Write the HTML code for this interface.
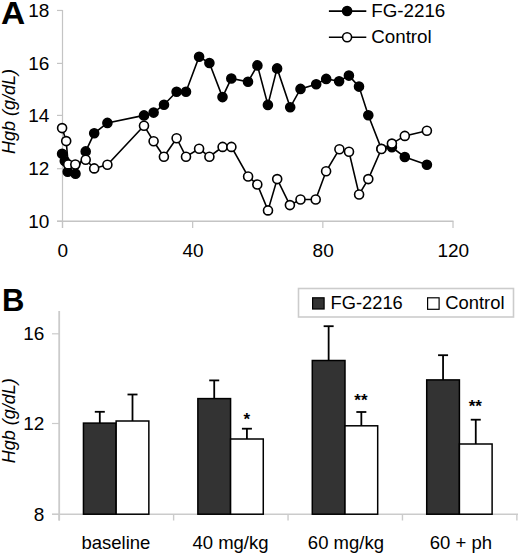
<!DOCTYPE html>
<html><head><meta charset="utf-8"><style>
html,body{margin:0;padding:0;background:#fff;width:520px;height:555px;overflow:hidden}
svg{display:block}
text{font-family:"Liberation Sans",sans-serif;fill:#000}
</style></head><body>
<svg width="520" height="555" viewBox="0 0 520 555">
<text transform="translate(1.0,24.2) scale(1.08,1)" x="0" y="0" font-weight="bold" font-size="31">A</text>
<line x1="62.5" y1="10" x2="62.5" y2="228" stroke="#c4c4c4" stroke-width="1.2"/>
<line x1="57" y1="10.46" x2="62.5" y2="10.46" stroke="#c4c4c4" stroke-width="1.2"/>
<text x="49.4" y="16.87" text-anchor="end" font-size="19">18</text>
<line x1="57" y1="63.40" x2="62.5" y2="63.40" stroke="#c4c4c4" stroke-width="1.2"/>
<text x="49.4" y="70.22" text-anchor="end" font-size="19">16</text>
<line x1="57" y1="115.40" x2="62.5" y2="115.40" stroke="#c4c4c4" stroke-width="1.2"/>
<text x="49.4" y="122.27" text-anchor="end" font-size="19">14</text>
<line x1="57" y1="168.70" x2="62.5" y2="168.70" stroke="#c4c4c4" stroke-width="1.2"/>
<text x="49.4" y="175.47" text-anchor="end" font-size="19">12</text>
<line x1="57" y1="221.30" x2="62.5" y2="221.30" stroke="#c4c4c4" stroke-width="1.2"/>
<text x="49.4" y="227.57" text-anchor="end" font-size="19">10</text>
<line x1="57" y1="221.3" x2="453.5" y2="221.3" stroke="#c4c4c4" stroke-width="1.4"/>
<line x1="62.50" y1="221.3" x2="62.50" y2="228" stroke="#c4c4c4" stroke-width="1.2"/>
<text x="62.80" y="257" text-anchor="middle" font-size="19">0</text>
<line x1="192.67" y1="221.3" x2="192.67" y2="228" stroke="#c4c4c4" stroke-width="1.2"/>
<text x="192.97" y="257" text-anchor="middle" font-size="19">40</text>
<line x1="322.84" y1="221.3" x2="322.84" y2="228" stroke="#c4c4c4" stroke-width="1.2"/>
<text x="323.14" y="257" text-anchor="middle" font-size="19">80</text>
<line x1="453.01" y1="221.3" x2="453.01" y2="228" stroke="#c4c4c4" stroke-width="1.2"/>
<text x="453.31" y="257" text-anchor="middle" font-size="19">120</text>
<text transform="translate(14.8,111.6) rotate(-90)" text-anchor="middle" font-size="18" font-style="italic">Hgb (g/dL)</text>
<polyline points="62.1,153.8 64.8,161.0 67.7,171.7 75.5,173.8 85.7,151.4 94.2,133.3 107.4,122.9 144.0,115.4 153.6,112.6 164.0,104.7 176.6,91.8 186.0,91.8 199.1,56.7 209.4,63.0 222.5,97.1 231.3,78.5 248.0,81.8 257.4,65.4 267.9,104.9 277.1,68.4 290.2,107.3 300.5,88.9 316.2,84.3 326.2,78.9 339.1,81.2 348.9,75.6 359.0,86.6 368.3,115.3 381.4,148.8 391.9,147.3 404.8,157.0 426.9,164.7" fill="none" stroke="#000" stroke-width="1.6"/>
<circle cx="62.1" cy="153.8" r="4.5" fill="#000" stroke="#000" stroke-width="1.6"/>
<circle cx="64.80000000000001" cy="161.0" r="4.5" fill="#000" stroke="#000" stroke-width="1.6"/>
<circle cx="67.7" cy="171.70000000000002" r="4.5" fill="#000" stroke="#000" stroke-width="1.6"/>
<circle cx="75.5" cy="173.8" r="4.5" fill="#000" stroke="#000" stroke-width="1.6"/>
<circle cx="85.7" cy="151.4" r="4.5" fill="#000" stroke="#000" stroke-width="1.6"/>
<circle cx="94.2" cy="133.3" r="4.5" fill="#000" stroke="#000" stroke-width="1.6"/>
<circle cx="107.4" cy="122.89999999999999" r="4.5" fill="#000" stroke="#000" stroke-width="1.6"/>
<circle cx="144.0" cy="115.4" r="4.5" fill="#000" stroke="#000" stroke-width="1.6"/>
<circle cx="153.6" cy="112.6" r="4.5" fill="#000" stroke="#000" stroke-width="1.6"/>
<circle cx="164.0" cy="104.7" r="4.5" fill="#000" stroke="#000" stroke-width="1.6"/>
<circle cx="176.6" cy="91.8" r="4.5" fill="#000" stroke="#000" stroke-width="1.6"/>
<circle cx="186.0" cy="91.8" r="4.5" fill="#000" stroke="#000" stroke-width="1.6"/>
<circle cx="199.1" cy="56.699999999999996" r="4.5" fill="#000" stroke="#000" stroke-width="1.6"/>
<circle cx="209.4" cy="63.0" r="4.5" fill="#000" stroke="#000" stroke-width="1.6"/>
<circle cx="222.5" cy="97.1" r="4.5" fill="#000" stroke="#000" stroke-width="1.6"/>
<circle cx="231.3" cy="78.5" r="4.5" fill="#000" stroke="#000" stroke-width="1.6"/>
<circle cx="248.0" cy="81.8" r="4.5" fill="#000" stroke="#000" stroke-width="1.6"/>
<circle cx="257.4" cy="65.39999999999999" r="4.5" fill="#000" stroke="#000" stroke-width="1.6"/>
<circle cx="267.9" cy="104.89999999999999" r="4.5" fill="#000" stroke="#000" stroke-width="1.6"/>
<circle cx="277.09999999999997" cy="68.39999999999999" r="4.5" fill="#000" stroke="#000" stroke-width="1.6"/>
<circle cx="290.2" cy="107.3" r="4.5" fill="#000" stroke="#000" stroke-width="1.6"/>
<circle cx="300.5" cy="88.89999999999999" r="4.5" fill="#000" stroke="#000" stroke-width="1.6"/>
<circle cx="316.2" cy="84.3" r="4.5" fill="#000" stroke="#000" stroke-width="1.6"/>
<circle cx="326.2" cy="78.89999999999999" r="4.5" fill="#000" stroke="#000" stroke-width="1.6"/>
<circle cx="339.09999999999997" cy="81.2" r="4.5" fill="#000" stroke="#000" stroke-width="1.6"/>
<circle cx="348.9" cy="75.6" r="4.5" fill="#000" stroke="#000" stroke-width="1.6"/>
<circle cx="359.0" cy="86.6" r="4.5" fill="#000" stroke="#000" stroke-width="1.6"/>
<circle cx="368.29999999999995" cy="115.3" r="4.5" fill="#000" stroke="#000" stroke-width="1.6"/>
<circle cx="381.4" cy="148.8" r="4.5" fill="#000" stroke="#000" stroke-width="1.6"/>
<circle cx="391.9" cy="147.3" r="4.5" fill="#000" stroke="#000" stroke-width="1.6"/>
<circle cx="404.79999999999995" cy="157.0" r="4.5" fill="#000" stroke="#000" stroke-width="1.6"/>
<circle cx="426.9" cy="164.70000000000002" r="4.5" fill="#000" stroke="#000" stroke-width="1.6"/>
<polyline points="62.1,128.1 66.2,141.1 68.2,164.4 75.3,164.5 85.7,159.8 94.2,168.4 107.4,164.7 144.0,125.7 153.6,141.2 163.9,156.8 176.6,138.2 186.0,156.7 199.1,148.7 209.4,156.7 222.6,146.9 231.4,146.9 248.1,176.5 257.3,184.5 268.0,210.4 277.2,179.1 289.9,205.1 300.5,199.5 315.7,199.5 326.1,171.3 339.4,149.2 349.0,151.8 359.1,194.5 368.3,179.1 381.4,149.0 391.9,143.6 404.8,135.9 426.9,130.7" fill="none" stroke="#000" stroke-width="1.6"/>
<circle cx="62.1" cy="128.1" r="4.5" fill="#fff" stroke="#000" stroke-width="1.6"/>
<circle cx="66.2" cy="141.10000000000002" r="4.5" fill="#fff" stroke="#000" stroke-width="1.6"/>
<circle cx="68.2" cy="164.4" r="4.5" fill="#fff" stroke="#000" stroke-width="1.6"/>
<circle cx="75.30000000000001" cy="164.5" r="4.5" fill="#fff" stroke="#000" stroke-width="1.6"/>
<circle cx="85.7" cy="159.8" r="4.5" fill="#fff" stroke="#000" stroke-width="1.6"/>
<circle cx="94.2" cy="168.4" r="4.5" fill="#fff" stroke="#000" stroke-width="1.6"/>
<circle cx="107.4" cy="164.70000000000002" r="4.5" fill="#fff" stroke="#000" stroke-width="1.6"/>
<circle cx="144.0" cy="125.7" r="4.5" fill="#fff" stroke="#000" stroke-width="1.6"/>
<circle cx="153.6" cy="141.20000000000002" r="4.5" fill="#fff" stroke="#000" stroke-width="1.6"/>
<circle cx="163.9" cy="156.8" r="4.5" fill="#fff" stroke="#000" stroke-width="1.6"/>
<circle cx="176.6" cy="138.20000000000002" r="4.5" fill="#fff" stroke="#000" stroke-width="1.6"/>
<circle cx="186.0" cy="156.70000000000002" r="4.5" fill="#fff" stroke="#000" stroke-width="1.6"/>
<circle cx="199.1" cy="148.70000000000002" r="4.5" fill="#fff" stroke="#000" stroke-width="1.6"/>
<circle cx="209.4" cy="156.70000000000002" r="4.5" fill="#fff" stroke="#000" stroke-width="1.6"/>
<circle cx="222.6" cy="146.9" r="4.5" fill="#fff" stroke="#000" stroke-width="1.6"/>
<circle cx="231.4" cy="146.9" r="4.5" fill="#fff" stroke="#000" stroke-width="1.6"/>
<circle cx="248.1" cy="176.5" r="4.5" fill="#fff" stroke="#000" stroke-width="1.6"/>
<circle cx="257.29999999999995" cy="184.5" r="4.5" fill="#fff" stroke="#000" stroke-width="1.6"/>
<circle cx="268.0" cy="210.4" r="4.5" fill="#fff" stroke="#000" stroke-width="1.6"/>
<circle cx="277.2" cy="179.10000000000002" r="4.5" fill="#fff" stroke="#000" stroke-width="1.6"/>
<circle cx="289.9" cy="205.10000000000002" r="4.5" fill="#fff" stroke="#000" stroke-width="1.6"/>
<circle cx="300.5" cy="199.5" r="4.5" fill="#fff" stroke="#000" stroke-width="1.6"/>
<circle cx="315.7" cy="199.5" r="4.5" fill="#fff" stroke="#000" stroke-width="1.6"/>
<circle cx="326.09999999999997" cy="171.3" r="4.5" fill="#fff" stroke="#000" stroke-width="1.6"/>
<circle cx="339.4" cy="149.20000000000002" r="4.5" fill="#fff" stroke="#000" stroke-width="1.6"/>
<circle cx="349.0" cy="151.8" r="4.5" fill="#fff" stroke="#000" stroke-width="1.6"/>
<circle cx="359.09999999999997" cy="194.5" r="4.5" fill="#fff" stroke="#000" stroke-width="1.6"/>
<circle cx="368.29999999999995" cy="179.10000000000002" r="4.5" fill="#fff" stroke="#000" stroke-width="1.6"/>
<circle cx="381.4" cy="149.0" r="4.5" fill="#fff" stroke="#000" stroke-width="1.6"/>
<circle cx="391.9" cy="143.60000000000002" r="4.5" fill="#fff" stroke="#000" stroke-width="1.6"/>
<circle cx="404.79999999999995" cy="135.9" r="4.5" fill="#fff" stroke="#000" stroke-width="1.6"/>
<circle cx="426.9" cy="130.70000000000002" r="4.5" fill="#fff" stroke="#000" stroke-width="1.6"/>
<line x1="328.9" y1="11.1" x2="366.3" y2="11.1" stroke="#000" stroke-width="1.6"/>
<circle cx="347.1" cy="11" r="4.5" fill="#000" stroke="#000" stroke-width="1.6"/>
<text x="371.2" y="17.4" font-size="18.8">FG-2216</text>
<line x1="328.9" y1="37.3" x2="366.3" y2="37.3" stroke="#000" stroke-width="1.6"/>
<circle cx="347.1" cy="37.2" r="4.5" fill="#fff" stroke="#000" stroke-width="1.6"/>
<text x="371.2" y="42.9" font-size="18.8">Control</text>
<text x="2" y="311.4" font-weight="bold" font-size="31">B</text>
<line x1="59.2" y1="311" x2="59.2" y2="520.5" stroke="#cbcbcb" stroke-width="1.8"/>
<line x1="52" y1="333.80" x2="59.2" y2="333.80" stroke="#cbcbcb" stroke-width="1.2"/>
<text x="44.4" y="340.30" text-anchor="end" font-size="19">16</text>
<line x1="52" y1="423.50" x2="59.2" y2="423.50" stroke="#cbcbcb" stroke-width="1.2"/>
<text x="44.4" y="430.00" text-anchor="end" font-size="19">12</text>
<line x1="52" y1="514.40" x2="59.2" y2="514.40" stroke="#cbcbcb" stroke-width="1.2"/>
<text x="44.4" y="520.90" text-anchor="end" font-size="19">8</text>
<line x1="52" y1="514.3" x2="518" y2="514.3" stroke="#cbcbcb" stroke-width="1.6"/>
<line x1="59.20" y1="514.2" x2="59.20" y2="520.5" stroke="#cbcbcb" stroke-width="1.4"/>
<line x1="173.62" y1="514.2" x2="173.62" y2="520.5" stroke="#cbcbcb" stroke-width="1.4"/>
<line x1="288.04" y1="514.2" x2="288.04" y2="520.5" stroke="#cbcbcb" stroke-width="1.4"/>
<line x1="402.46" y1="514.2" x2="402.46" y2="520.5" stroke="#cbcbcb" stroke-width="1.4"/>
<line x1="516.88" y1="514.2" x2="516.88" y2="520.5" stroke="#cbcbcb" stroke-width="1.4"/>
<text x="115.90" y="548.5" text-anchor="middle" font-size="18.5">baseline</text>
<text x="230.50" y="548.5" text-anchor="middle" font-size="18.5">40 mg/kg</text>
<text x="345.90" y="548.5" text-anchor="middle" font-size="18.5">60 mg/kg</text>
<text x="460.90" y="548.5" text-anchor="middle" font-size="18.5">60 + ph</text>
<text transform="translate(14.8,420.8) rotate(-90)" text-anchor="middle" font-size="18" font-style="italic">Hgb (g/dL)</text>
<line x1="99.80" y1="423.10" x2="99.80" y2="411.80" stroke="#000" stroke-width="1.8"/>
<line x1="94.80" y1="411.80" x2="104.80" y2="411.80" stroke="#000" stroke-width="1.8"/>
<line x1="132.50" y1="421.00" x2="132.50" y2="394.50" stroke="#000" stroke-width="1.8"/>
<line x1="127.50" y1="394.50" x2="137.50" y2="394.50" stroke="#000" stroke-width="1.8"/>
<rect x="83.45" y="423.10" width="32.70" height="91.10" fill="#333" stroke="#000" stroke-width="1.5"/>
<rect x="116.15" y="421.00" width="32.70" height="93.20" fill="#fff" stroke="#000" stroke-width="1.5"/>
<line x1="214.22" y1="398.60" x2="214.22" y2="380.40" stroke="#000" stroke-width="1.8"/>
<line x1="209.22" y1="380.40" x2="219.22" y2="380.40" stroke="#000" stroke-width="1.8"/>
<line x1="246.92" y1="439.00" x2="246.92" y2="428.70" stroke="#000" stroke-width="1.8"/>
<line x1="241.92" y1="428.70" x2="251.92" y2="428.70" stroke="#000" stroke-width="1.8"/>
<rect x="197.87" y="398.60" width="32.70" height="115.60" fill="#333" stroke="#000" stroke-width="1.5"/>
<rect x="230.57" y="439.00" width="32.70" height="75.20" fill="#fff" stroke="#000" stroke-width="1.5"/>
<line x1="328.64" y1="360.50" x2="328.64" y2="326.20" stroke="#000" stroke-width="1.8"/>
<line x1="323.64" y1="326.20" x2="333.64" y2="326.20" stroke="#000" stroke-width="1.8"/>
<line x1="361.34" y1="425.80" x2="361.34" y2="412.00" stroke="#000" stroke-width="1.8"/>
<line x1="356.34" y1="412.00" x2="366.34" y2="412.00" stroke="#000" stroke-width="1.8"/>
<rect x="312.29" y="360.50" width="32.70" height="153.70" fill="#333" stroke="#000" stroke-width="1.5"/>
<rect x="344.99" y="425.80" width="32.70" height="88.40" fill="#fff" stroke="#000" stroke-width="1.5"/>
<line x1="443.06" y1="379.90" x2="443.06" y2="355.20" stroke="#000" stroke-width="1.8"/>
<line x1="438.06" y1="355.20" x2="448.06" y2="355.20" stroke="#000" stroke-width="1.8"/>
<line x1="475.76" y1="444.00" x2="475.76" y2="419.70" stroke="#000" stroke-width="1.8"/>
<line x1="470.76" y1="419.70" x2="480.76" y2="419.70" stroke="#000" stroke-width="1.8"/>
<rect x="426.71" y="379.90" width="32.70" height="134.30" fill="#333" stroke="#000" stroke-width="1.5"/>
<rect x="459.41" y="444.00" width="32.70" height="70.20" fill="#fff" stroke="#000" stroke-width="1.5"/>
<text x="246.9" y="424.9" text-anchor="middle" font-size="17" font-weight="bold">*</text>
<text x="360.9" y="406" text-anchor="middle" font-size="17" font-weight="bold">**</text>
<text x="475.3" y="412.1" text-anchor="middle" font-size="17" font-weight="bold">**</text>
<rect x="298.5" y="288.5" width="215" height="28.5" fill="#fff" stroke="#cccccc" stroke-width="1.6"/>
<rect x="312.6" y="297.8" width="11.5" height="11.2" fill="#333" stroke="#000" stroke-width="1.2"/>
<text x="330.6" y="309.1" font-size="18.3">FG-2216</text>
<rect x="427.6" y="297.8" width="11.5" height="11.5" fill="#fff" stroke="#000" stroke-width="1.2"/>
<text x="445.2" y="309.1" font-size="18.4">Control</text>
</svg>
</body></html>
